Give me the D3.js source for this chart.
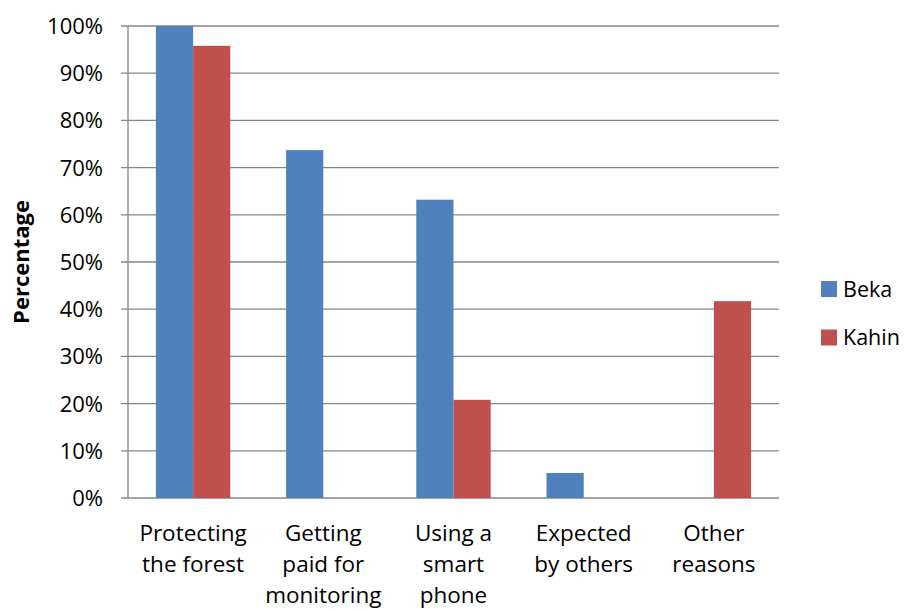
<!DOCTYPE html>
<html lang="en">
<head>
    <meta charset="UTF-8"/>
    <title>Reasons for monitoring</title>
    <script src="https://d3js.org/d3.v7.min.js"></script>
    <style>
        body { margin: 0; background: #fff; overflow: hidden; }
        text { font-family: "Open Sans", "Liberation Sans", sans-serif; fill: #000; }
    </style>
</head>
<body>
    <script>
        var w = 904;
        var h = 610;

        var categories = [
            ["Protecting", "the forest"],
            ["Getting", "paid for", "monitoring"],
            ["Using a", "smart", "phone"],
            ["Expected", "by others"],
            ["Other", "reasons"]
        ];
        var seriesNames = ["Beka", "Kahin"];
        var beka = [100, 73.7, 63.2, 5.3, 0];
        var kahin = [95.8, 0, 20.8, 0, 41.7];
        var colors = ["#4F81BD", "#C0504D"];
        var yTicks = [0, 10, 20, 30, 40, 50, 60, 70, 80, 90, 100];

        // plot area
        var plotL = 128, plotR = 779, plotT = 26, plotB = 498;

        var svg = d3.select("body")
                    .append("svg")
                    .attr("width", w)
                    .attr("height", h);

        var xScale = d3.scaleBand()
            .domain(d3.range(categories.length))
            .range([plotL, plotR]);

        // Excel style gap width 150%
        var barW = xScale.bandwidth() / 3.5;

        var yScale = d3.scaleLinear()
            .domain([0, 100])
            .range([plotB, plotT]);

        // gridlines
        svg.append("g")
            .selectAll("line")
            .data(yTicks)
            .enter()
            .append("line")
            .attr("x1", plotL - 7)
            .attr("x2", plotR)
            .attr("y1", d => yScale(d))
            .attr("y2", d => yScale(d))
            .attr("stroke", "#868686")
            .attr("stroke-width", 1.3);

        // y axis line
        svg.append("line")
            .attr("x1", plotL).attr("x2", plotL)
            .attr("y1", plotT).attr("y2", plotB)
            .attr("stroke", "#868686")
            .attr("stroke-width", 1.3);

        // y tick labels
        svg.append("g")
            .selectAll("text")
            .data(yTicks)
            .enter()
            .append("text")
            .attr("x", plotL - 25)
            .attr("y", d => yScale(d))
            .attr("dy", "0.36em")
            .attr("text-anchor", "end")
            .attr("font-size", "22px")
            .text(d => d + "%");

        // bars
        var series = [beka, kahin];
        series.forEach(function (vals, s) {
            svg.append("g")
                .selectAll("rect")
                .data(vals)
                .enter()
                .append("rect")
                .attr("x", (d, i) => xScale(i) + barW * 0.75 + s * barW)
                .attr("y", d => yScale(d))
                .attr("width", barW)
                .attr("height", d => plotB - yScale(d))
                .attr("fill", colors[s]);
        });

        // category labels
        var cat = svg.append("g")
            .selectAll("text")
            .data(categories)
            .enter()
            .append("text")
            .attr("text-anchor", "middle")
            .attr("font-size", "22.5px");

        cat.selectAll("tspan")
            .data((d, i) => d.map(t => ({t: t, i: i})))
            .enter()
            .append("tspan")
            .attr("x", d => xScale(d.i) + xScale.bandwidth() / 2)
            .attr("y", (d, j) => 541 + j * 31)
            .text(d => d.t);

        // y axis title
        svg.append("text")
            .attr("transform", "translate(29,262) rotate(-90)")
            .attr("text-anchor", "middle")
            .attr("font-size", "22px")
            .attr("font-weight", "bold")
            .text("Percentage");

        // legend
        var legend = svg.append("g")
            .selectAll("g")
            .data(seriesNames)
            .enter()
            .append("g")
            .attr("transform", (d, i) => "translate(821," + (281 + i * 48.5) + ")");

        legend.append("rect")
            .attr("width", 16)
            .attr("height", 16)
            .attr("fill", (d, i) => colors[i]);

        legend.append("text")
            .attr("x", 22)
            .attr("y", 8)
            .attr("dy", "0.36em")
            .attr("font-size", "21.5px")
            .text(d => d);
    </script>
</body>
</html>
